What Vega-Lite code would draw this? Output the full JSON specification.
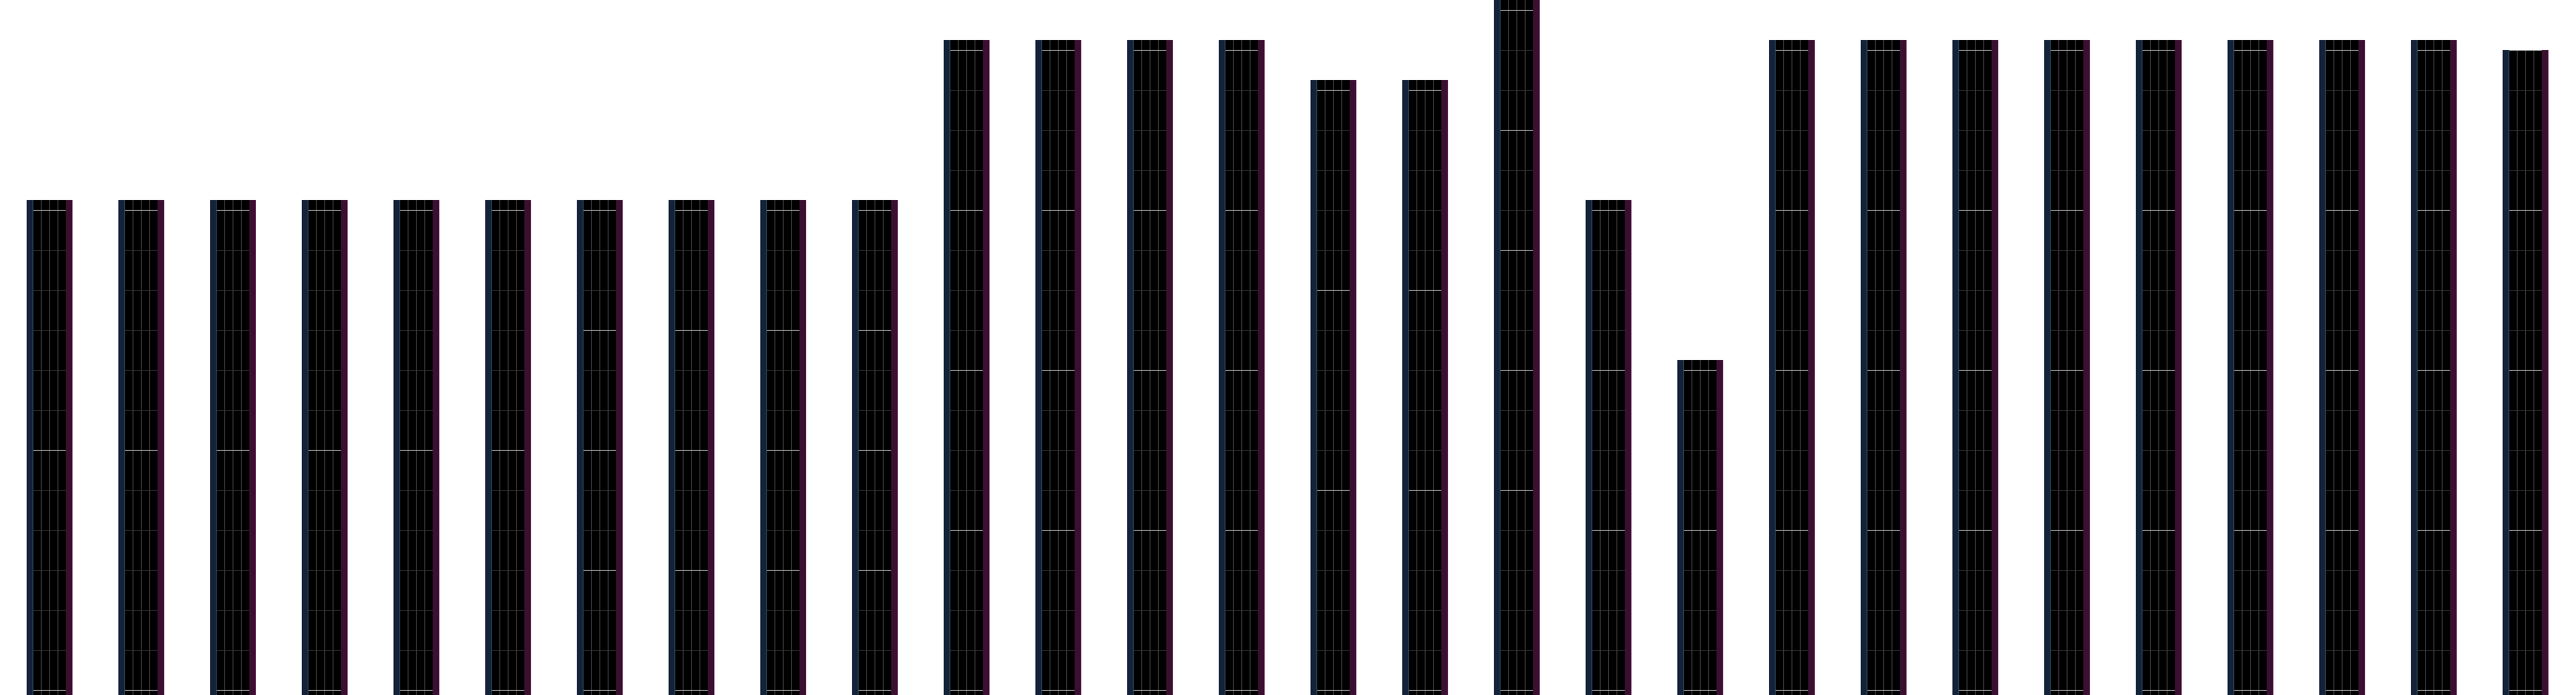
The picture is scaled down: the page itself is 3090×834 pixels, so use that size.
{
  "$schema": "https://vega.github.io/schema/vega-lite/v6.json",
  "width": 3090,
  "height": 834,
  "autosize": {"type": "none"},
  "padding": 0,
  "background": "#ffffff",
  "config": {"view": {"stroke": null}},
  "datasets": {
    "panels": [
      {"panel": 1, "top": 12.25, "grid": [0,1,2,3,4,5,6,7,8,9,10,11,12], "major": [0,6,12]},
      {"panel": 2, "top": 12.25, "grid": [0,1,2,3,4,5,6,7,8,9,10,11,12], "major": [0,6,12]},
      {"panel": 3, "top": 12.25, "grid": [0,1,2,3,4,5,6,7,8,9,10,11,12], "major": [0,6,12]},
      {"panel": 4, "top": 12.25, "grid": [0,1,2,3,4,5,6,7,8,9,10,11,12], "major": [0,6,12]},
      {"panel": 5, "top": 12.25, "grid": [0,1,2,3,4,5,6,7,8,9,10,11,12], "major": [0,6,12]},
      {"panel": 6, "top": 12.25, "grid": [0,1,2,3,4,5,6,7,8,9,10,11,12], "major": [0,6,12]},
      {"panel": 7, "top": 12.25, "grid": [0,1,2,3,4,5,6,7,8,9,10,11,12], "major": [0,3,6,9,12]},
      {"panel": 8, "top": 12.25, "grid": [0,1,2,3,4,5,6,7,8,9,10,11,12], "major": [0,3,6,9,12]},
      {"panel": 9, "top": 12.25, "grid": [0,1,2,3,4,5,6,7,8,9,10,11,12], "major": [0,3,6,9,12]},
      {"panel": 10, "top": 12.25, "grid": [0,1,2,3,4,5,6,7,8,9,10,11,12], "major": [0,3,6,9,12]},
      {"panel": 11, "top": 16.25, "grid": [0,1,2,3,4,5,6,7,8,9,10,11,12,13,14,15,16], "major": [0,4,8,12,16]},
      {"panel": 12, "top": 16.25, "grid": [0,1,2,3,4,5,6,7,8,9,10,11,12,13,14,15,16], "major": [0,4,8,12,16]},
      {"panel": 13, "top": 16.25, "grid": [0,1,2,3,4,5,6,7,8,9,10,11,12,13,14,15,16], "major": [0,4,8,12,16]},
      {"panel": 14, "top": 16.25, "grid": [0,1,2,3,4,5,6,7,8,9,10,11,12,13,14,15,16], "major": [0,4,8,12,16]},
      {"panel": 15, "top": 15.25, "grid": [0,1,2,3,4,5,6,7,8,9,10,11,12,13,14,15], "major": [0,5,10,15]},
      {"panel": 16, "top": 15.25, "grid": [0,1,2,3,4,5,6,7,8,9,10,11,12,13,14,15], "major": [0,5,10,15]},
      {"panel": 17, "top": 17.25, "grid": [0,1,2,3,4,5,6,7,8,9,10,11,12,13,14,15,16,17], "major": [0,5,8,11,14,17]},
      {"panel": 18, "top": 12.25, "grid": [0,1,2,3,4,5,6,7,8,9,10,11,12], "major": [0,4,8,12]},
      {"panel": 19, "top": 8.25, "grid": [0,1,2,3,4,5,6,7,8], "major": [0,4,8]},
      {"panel": 20, "top": 16.25, "grid": [0,1,2,3,4,5,6,7,8,9,10,11,12,13,14,15,16], "major": [0,4,8,12,16]},
      {"panel": 21, "top": 16.25, "grid": [0,1,2,3,4,5,6,7,8,9,10,11,12,13,14,15,16], "major": [0,4,8,12,16]},
      {"panel": 22, "top": 16.25, "grid": [0,1,2,3,4,5,6,7,8,9,10,11,12,13,14,15,16], "major": [0,4,8,12,16]},
      {"panel": 23, "top": 16.25, "grid": [0,1,2,3,4,5,6,7,8,9,10,11,12,13,14,15,16], "major": [0,4,8,12,16]},
      {"panel": 24, "top": 16.25, "grid": [0,1,2,3,4,5,6,7,8,9,10,11,12,13,14,15,16], "major": [0,4,8,12,16]},
      {"panel": 25, "top": 16.25, "grid": [0,1,2,3,4,5,6,7,8,9,10,11,12,13,14,15,16], "major": [0,4,8,12,16]},
      {"panel": 26, "top": 16.25, "grid": [0,1,2,3,4,5,6,7,8,9,10,11,12,13,14,15,16], "major": [0,4,8,12,16]},
      {"panel": 27, "top": 16.25, "grid": [0,1,2,3,4,5,6,7,8,9,10,11,12,13,14,15,16], "major": [0,4,8,12,16]},
      {"panel": 28, "top": 16.0, "grid": [0,1,2,3,4,5,6,7,8,9,10,11,12,13,14,15,16], "major": [0,4,8,12,16]}
    ]
  },
  "data": {"name": "panels"},
  "encoding": {
    "x": {"field": "panel", "type": "ordinal", "axis": null,
          "scale": {"paddingInner": 0.5, "paddingOuter": 0.29545, "align": 0.49231}}
  },
  "layer": [
    {
      "mark": {"type": "bar", "color": "#000000"},
      "encoding": {
        "y": {"field": "top", "type": "quantitative", "axis": null,
              "scale": {"domain": [-0.125, 17.25], "nice": false, "zero": false}},
        "y2": {"datum": -0.125}
      }
    },
    {
      "mark": {"type": "rule", "color": "#3e3e3e", "strokeWidth": 1, "xOffset": 17.5},
      "encoding": {
        "x": {"field": "panel", "type": "ordinal", "bandPosition": 0},
        "y": {"field": "top", "type": "quantitative"},
        "y2": {"datum": -0.125}
      }
    },
    {
      "mark": {"type": "rule", "color": "#3e3e3e", "strokeWidth": 1, "xOffset": 27.5},
      "encoding": {
        "x": {"field": "panel", "type": "ordinal", "bandPosition": 0},
        "y": {"field": "top", "type": "quantitative"},
        "y2": {"datum": -0.125}
      }
    },
    {
      "mark": {"type": "rule", "color": "#3e3e3e", "strokeWidth": 1, "xOffset": 37.5},
      "encoding": {
        "x": {"field": "panel", "type": "ordinal", "bandPosition": 0},
        "y": {"field": "top", "type": "quantitative"},
        "y2": {"datum": -0.125}
      }
    },
    {
      "transform": [{"flatten": ["grid"]}],
      "mark": {"type": "tick", "orient": "horizontal", "size": 39, "thickness": 1, "color": "#3e3e3e", "yOffset": 0.5},
      "encoding": {
        "y": {"field": "grid", "type": "quantitative"}
      }
    },
    {
      "transform": [{"flatten": ["major"]}],
      "mark": {"type": "tick", "orient": "horizontal", "size": 39, "thickness": 1.2, "color": "#d6d6d6", "yOffset": 0.5},
      "encoding": {
        "y": {"field": "major", "type": "quantitative"}
      }
    },
    {
      "mark": {"type": "rule", "color": "#14223a", "strokeWidth": 7, "xOffset": 3.5},
      "encoding": {
        "x": {"field": "panel", "type": "ordinal", "bandPosition": 0},
        "y": {"field": "top", "type": "quantitative"},
        "y2": {"datum": -0.125}
      }
    },
    {
      "mark": {"type": "rule", "color": "#2a4858", "strokeWidth": 1, "xOffset": 7.5},
      "encoding": {
        "x": {"field": "panel", "type": "ordinal", "bandPosition": 0},
        "y": {"field": "top", "type": "quantitative"},
        "y2": {"datum": -0.125}
      }
    },
    {
      "mark": {"type": "rule", "color": "#3a1030", "strokeWidth": 7, "xOffset": 50.5},
      "encoding": {
        "x": {"field": "panel", "type": "ordinal", "bandPosition": 0},
        "y": {"field": "top", "type": "quantitative"},
        "y2": {"datum": -0.125}
      }
    },
    {
      "mark": {"type": "rule", "color": "#5a1848", "strokeWidth": 1, "xOffset": 54.5},
      "encoding": {
        "x": {"field": "panel", "type": "ordinal", "bandPosition": 0},
        "y": {"field": "top", "type": "quantitative"},
        "y2": {"datum": -0.125}
      }
    }
  ]
}
